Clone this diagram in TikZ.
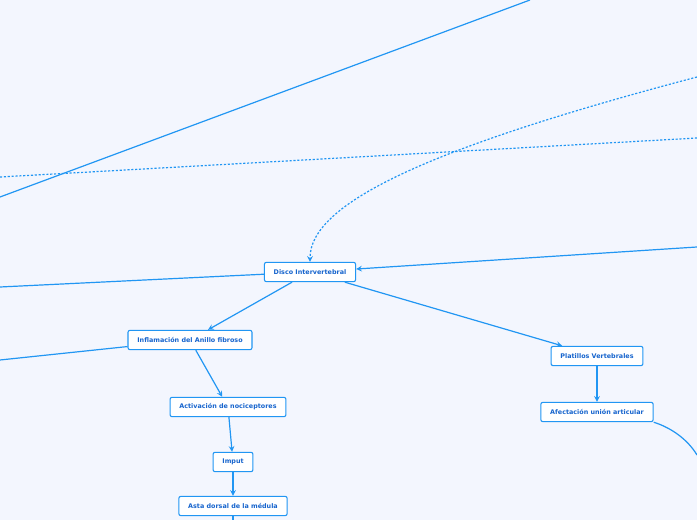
\documentclass[tikz,border=0pt]{standalone}
\usepackage{fontspec}
\setmainfont{DejaVu Sans}
\usetikzlibrary{arrows}

\definecolor{bgcol}{RGB}{243,246,254}
\definecolor{linecol}{RGB}{33,150,243}
\definecolor{textcol}{RGB}{22,100,205}

\begin{document}
\begin{tikzpicture}[>=stealth,x=0.75pt,y=-0.75pt,
		topic/.style={draw=linecol,fill=white,rounded corners=1.5pt,line width=0.8pt,
			text=textcol,font=\fontsize{4.8}{5.5}\selectfont\bfseries,
			inner xsep=7pt,minimum height=14.5pt},
		link/.style={draw=linecol,line width=0.9pt},
		dots/.style={link,dash pattern=on 1.6pt off 1.3pt}]
		
		\fill[bgcol] (0,0) rectangle (697,520);
		\useasboundingbox (0,0) rectangle (697,520);
		
		\node[topic] (disco) at (310,272) {Disco Intervertebral};
		\node[topic] (anillo) at (190,340) {Inflamación del Anillo fibroso};
		\node[topic] (platillos) at (597,356) {Platillos Vertebrales};
		\node[topic] (afect) at (597,412) {Afectación unión articular};
		\node[topic] (activ) at (228,407) {Activación de nociceptores};
		\node[topic] (imput) at (233,462) {Imput};
		\node[topic] (asta) at (233,506) {Asta dorsal de la médula};
		
		\coordinate (a1) at (0,197);
		\coordinate (a2) at (530,0);
		\coordinate (b1) at (0,177);
		\coordinate (b2) at (697,138);
		\coordinate (c1) at (697,77);
		\coordinate (d1) at (697,247);
		\coordinate (e1) at (0,287);
		\coordinate (f1) at (0,360);
		\coordinate (g1) at (697,455);
		\coordinate (h1) at (233,520);
		
		\draw[link] (a1)--(a2);
		\draw[dots] (b1)--(b2);
		\draw[dots,->] (c1) .. controls (420,150) and (310,205) .. (disco.north);
		\draw[link,->] (d1)--(disco);
		\draw[link] (e1)--(disco);
		\draw[link] (f1)--(anillo);
		
		\draw[link,->] (disco)--(anillo);
		\draw[link,->] (disco)--(platillos);
		\draw[link,->] (anillo)--(activ);
		\draw[link,->] (platillos)--(afect);
		\draw[link,->] (activ)--(imput);
		\draw[link,->] (imput)--(asta);
		
		\draw[link] (afect.south east) .. controls (672,428) and (688,440) .. (g1);
		\draw[link] (asta)--(h1);
	\end{tikzpicture}
\end{document}
